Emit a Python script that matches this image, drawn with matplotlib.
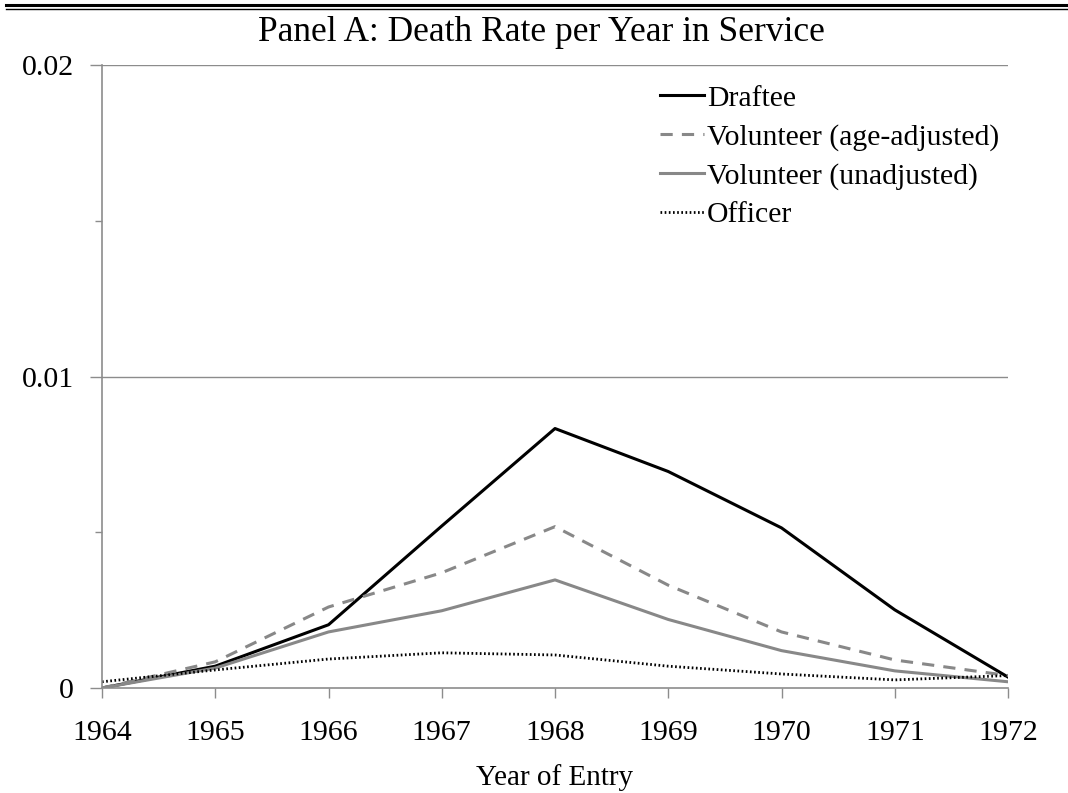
import numpy as np
import matplotlib.pyplot as plt
from matplotlib.lines import Line2D
from matplotlib.ticker import MultipleLocator

years = [1964, 1965, 1966, 1967, 1968, 1969, 1970, 1971, 1972]
draftee = [0.0, 0.0007, 0.00203, 0.0052, 0.00833, 0.00695, 0.00514, 0.00251, 0.00035]
vol_adjusted = [0.0, 0.00084, 0.0026, 0.0037, 0.00518, 0.0033, 0.0018, 0.0009, 0.0004]
vol_unadjusted = [0.0, 0.00064, 0.0018, 0.00248, 0.00347, 0.0022, 0.0012, 0.00055, 0.0002]
officer = [0.0002, 0.00058, 0.00093, 0.00113, 0.00106, 0.0007, 0.00045, 0.00026, 0.0004]

plt.rcParams["font.family"] = ["Liberation Serif", "DejaVu Serif"]
plt.rcParams["font.size"] = 21

gray = "#888888"
axis_gray = "#8c8c8c"

fig = plt.figure(figsize=(10.68, 7.93), dpi=100)
ax = fig.add_axes([102 / 1068, 1 - 688 / 793, (1008 - 102) / 1068, (688 - 65) / 793])

ax.plot(years, draftee, color="black", linewidth=2.2, label="Draftee")
ax.plot(years, vol_adjusted, color=gray, linewidth=2.2, linestyle=(0, (4, 3)),
        label="Volunteer (age-adjusted)")
ax.plot(years, vol_unadjusted, color=gray, linewidth=2.2, label="Volunteer (unadjusted)")
ax.plot(years, officer, color="black", linewidth=2.0, linestyle=(0, (0.6, 0.9)),
        label="Officer")

ax.set_xlim(1964, 1972)
ax.set_ylim(0, 0.02)
ax.set_xticks(years)
ax.set_yticks([0, 0.01, 0.02])
ax.set_yticklabels(["0", "0.01", "0.02"])
ax.yaxis.set_minor_locator(MultipleLocator(0.005))

# gridlines at major y ticks
for yv in [0.01, 0.02]:
    ax.axhline(yv, color=axis_gray, linewidth=1.0, zorder=0)

for s in ["top", "right"]:
    ax.spines[s].set_visible(False)
for s in ["left", "bottom"]:
    ax.spines[s].set_color(axis_gray)
    ax.spines[s].set_linewidth(1.2)

ax.tick_params(axis="x", direction="out", length=7, width=1.0, color=axis_gray, pad=16,
               labelsize=21.5)
ax.tick_params(axis="y", which="major", direction="out", length=8.6, width=1.0,
               color=axis_gray, pad=11.5, labelsize=21.5)
ax.tick_params(axis="y", which="minor", direction="out", length=5, width=1.0,
               color=axis_gray)

ax.set_xlabel("Year of Entry", fontsize=21, labelpad=13)
ax.set_title("Panel A: Death Rate per Year in Service", fontsize=25.5, pad=17,
             x=(541 - 102) / 906)

ax.legend(loc="upper left", bbox_to_anchor=((648 - 102) / 906, 1 - (73 - 65) / 623),
          frameon=False, fontsize=21.4, handlelength=1.5, handletextpad=0.08,
          labelspacing=0.4, borderaxespad=0)

# double rule across the top of the figure
fig.add_artist(Line2D([6 / 1068, 1], [1 - 5 / 793, 1 - 5 / 793], color="black",
                      linewidth=2.2, transform=fig.transFigure))
fig.add_artist(Line2D([6 / 1068, 1], [1 - 8.5 / 793, 1 - 8.5 / 793], color="black",
                      linewidth=1.0, transform=fig.transFigure))

fig.savefig("out.png", dpi=100)
plt.close()
